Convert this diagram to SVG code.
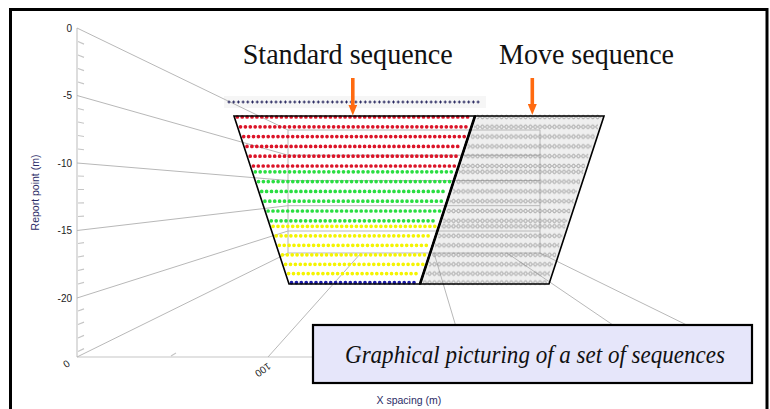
<svg xmlns="http://www.w3.org/2000/svg" width="770" height="409" viewBox="0 0 770 409">
<defs>
<style>
.grid{stroke:#b8b8b8;stroke-width:1;fill:none}
.axis{stroke:#c6c6c6;stroke-width:1.2;fill:none}
.tick{font-family:"Liberation Sans",Arial,sans-serif;font-size:10px;fill:#222}
.alab{font-family:"Liberation Sans",Arial,sans-serif;font-size:10.5px;fill:#2b2b66}
.dot{stroke-width:3.7;stroke-linecap:round;stroke-dasharray:0 4.9;fill:none}
.r{stroke:#dc1428}.g{stroke:#2ade42}.y{stroke:#f4f400}.b{stroke:#1c1ca8}
.dia{fill:url(#dia)}
.title{font-family:"Liberation Serif","Times New Roman",serif;font-size:29px;fill:#111}
.cap{font-family:"Liberation Serif","Times New Roman",serif;font-size:24.5px;font-style:italic;fill:#111}
.arrow{stroke:#ff6a10;stroke-width:3.6;fill:none;marker-end:url(#ah)}
.outline{stroke:#000;stroke-width:1.6;fill:none}
</style>
<marker id="ah" markerUnits="userSpaceOnUse" markerWidth="11" markerHeight="9" refX="0.5" refY="4.5" orient="auto">
<path d="M0,0 L11,4.5 L0,9 Z" fill="#ff6a10"/>
</marker>
<pattern id="dia" patternUnits="userSpaceOnUse" x="0" y="-3" width="4.8" height="6">
<path d="M2.4,0.8 L4.3,3 L2.4,5.2 L0.5,3 Z" fill="none" stroke="#7c7c7c" stroke-width="0.75"/>
</pattern>
</defs>

<rect id="frame" x="10.5" y="9.5" width="756.5" height="405" fill="#fff" stroke="#000" stroke-width="3"/>

<g id="backgrounds">
<rect x="224" y="96" width="262" height="12" fill="#f6f6f6"/>
<polygon points="475,116 604,116 549,284 420,284" fill="#efefef"/>
</g>

<g id="axes">
<line class="axis" x1="77" y1="28" x2="77" y2="357"/>
<line class="axis" x1="77" y1="357" x2="752" y2="357"/>
<path class="axis" stroke-width="1" d="M78,41.5 l6,2.66 M78,55 l6,2.42 M78,68.5 l6,2.18 M78,82 l6,1.94 M78,108.5 l6,1.47 M78,122 l6,1.23 M78,135.5 l6,0.99 M78,149 l6,0.75 M78,176 l6,0.27 M78,189.5 l6,0 M78,203 l6,-0.21 M78,216.5 l6,-0.45 M78,243.5 l6,-0.94 M78,257 l6,-1.18 M78,270.5 l6,-1.42 M78,284 l6,-1.66 M78,311 l6,-2.14 M78,324.5 l6,-2.38 M78,338 l6,-2.62 M78,351.5 l6,-2.86 M171,356 l5,-3"/>
<text class="tick" x="72" y="31.5" text-anchor="end">0</text>
<text class="tick" x="72" y="99" text-anchor="end">-5</text>
<text class="tick" x="72" y="166.5" text-anchor="end">-10</text>
<text class="tick" x="72" y="234" text-anchor="end">-15</text>
<text class="tick" x="72" y="301.5" text-anchor="end">-20</text>
<text class="tick" x="66.5" y="367.5" text-anchor="middle" transform="rotate(145 66.5 364)">0</text>
<text class="tick" x="263" y="373.5" text-anchor="middle" transform="rotate(145 263 370)">100</text>
<text class="alab" x="0" y="0" text-anchor="middle" transform="translate(38.5 192.5) rotate(-90)">Report point (m)</text>
<text class="alab" x="376.5" y="404" font-size="10px">X spacing (m)</text>
</g>

<g id="grid">
<path class="grid" d="M77,28 L288,130 M77,95.5 L288,155.2 M77,163 L288,180.5 M77,230.5 L288,205.7 M77,298 L288,231 M77,357 L288,253"/>
<path class="grid" d="M288,130 H540 M288,155.2 H540 M288,180.5 H540 M288,205.7 H540 M288,231 H540 M288,253 H540 M288,130 V253 M540,130 V253"/>
<path class="grid" d="M268,357 L361,253 M465,357 L434,253 M660,357 L507,253 M752,357 L540,253"/>
</g>

<g id="electrodes">
<line x1="227.5" y1="102" x2="480" y2="102" stroke="#26265e" stroke-width="1" stroke-dasharray="3 1.7"/>
<line x1="228.5" y1="102" x2="480" y2="102" stroke="#26265e" stroke-width="3.2" stroke-dasharray="1 3.7"/>
</g>

<g id="standard-sequence">
<line class="dot r" x1="237.3" y1="117" x2="471.7" y2="117"/>
<line class="dot r" x1="240.5" y1="126.8" x2="468.5" y2="126.8"/>
<line class="dot r" x1="243.7" y1="136.6" x2="465.3" y2="136.6"/>
<line class="dot r" x1="247" y1="146.4" x2="462" y2="146.4"/>
<line class="dot r" x1="250.2" y1="156.2" x2="458.8" y2="156.2"/>
<line class="dot r" x1="253.4" y1="166" x2="455.6" y2="166"/>
<line class="dot g" x1="255.3" y1="171.8" x2="453.7" y2="171.8"/>
<line class="dot g" x1="258.5" y1="181.6" x2="450.5" y2="181.6"/>
<line class="dot g" x1="261.7" y1="191.4" x2="447.3" y2="191.4"/>
<line class="dot g" x1="264.9" y1="201.2" x2="444.1" y2="201.2"/>
<line class="dot g" x1="268.1" y1="211" x2="440.9" y2="211"/>
<line class="dot g" x1="271.3" y1="220.8" x2="437.7" y2="220.8"/>
<line class="dot y" x1="273.1" y1="226.3" x2="435.9" y2="226.3"/>
<line class="dot y" x1="276.2" y1="235.8" x2="432.8" y2="235.8"/>
<line class="dot y" x1="279.3" y1="245.3" x2="429.7" y2="245.3"/>
<line class="dot y" x1="282.4" y1="254.8" x2="426.6" y2="254.8"/>
<line class="dot y" x1="285.6" y1="264.3" x2="423.4" y2="264.3"/>
<line class="dot y" x1="288.6" y1="273.6" x2="420.4" y2="273.6"/>
<line class="dot b" x1="291.5" y1="282.6" x2="417.5" y2="282.6"/>
<polygon class="outline" points="234,116 475,116 420,284 289,284"/>
</g>

<g id="move-sequence">
<rect class="dia" transform="translate(0,117)" x="477.2" y="-3" width="124" height="6"/>
<rect class="dia" transform="translate(0,126.8)" x="474" y="-3" width="124" height="6"/>
<rect class="dia" transform="translate(0,136.6)" x="470.8" y="-3" width="124" height="6"/>
<rect class="dia" transform="translate(0,146.4)" x="467.5" y="-3" width="124" height="6"/>
<rect class="dia" transform="translate(0,156.2)" x="464.3" y="-3" width="124" height="6"/>
<rect class="dia" transform="translate(0,166)" x="461.1" y="-3" width="124" height="6"/>
<rect class="dia" transform="translate(0,171.8)" x="459.2" y="-3" width="124" height="6"/>
<rect class="dia" transform="translate(0,181.6)" x="456" y="-3" width="124" height="6"/>
<rect class="dia" transform="translate(0,191.4)" x="452.8" y="-3" width="124" height="6"/>
<rect class="dia" transform="translate(0,201.2)" x="449.6" y="-3" width="124" height="6"/>
<rect class="dia" transform="translate(0,211)" x="446.4" y="-3" width="124" height="6"/>
<rect class="dia" transform="translate(0,220.8)" x="443.2" y="-3" width="124" height="6"/>
<rect class="dia" transform="translate(0,226.3)" x="441.4" y="-3" width="124" height="6"/>
<rect class="dia" transform="translate(0,235.8)" x="438.3" y="-3" width="124" height="6"/>
<rect class="dia" transform="translate(0,245.3)" x="435.2" y="-3" width="124" height="6"/>
<rect class="dia" transform="translate(0,254.8)" x="432.1" y="-3" width="124" height="6"/>
<rect class="dia" transform="translate(0,264.3)" x="428.9" y="-3" width="124" height="6"/>
<rect class="dia" transform="translate(0,273.6)" x="425.9" y="-3" width="124" height="6"/>
<rect class="dia" transform="translate(0,282.6)" x="423" y="-3" width="124" height="6"/>
<polygon class="outline" points="475,116 604,116 549,284 420,284"/>
<line x1="475" y1="116" x2="420" y2="284" stroke="#000" stroke-width="2.6"/>
</g>

<g id="titles">
<text class="title" x="242.7" y="64" textLength="210" lengthAdjust="spacingAndGlyphs">Standard sequence</text>
<text class="title" x="499" y="64" textLength="175" lengthAdjust="spacingAndGlyphs">Move sequence</text>
</g>

<g id="connectors">
<line class="arrow" x1="352.8" y1="78" x2="352.8" y2="105"/>
<line class="arrow" x1="532.3" y1="78" x2="532.3" y2="104.5"/>
</g>

<g id="caption">
<rect x="313" y="325" width="439" height="58" fill="#e6e6fa" stroke="#000" stroke-width="2.2"/>
<text class="cap" x="535" y="363" text-anchor="middle" textLength="380" lengthAdjust="spacingAndGlyphs">Graphical picturing of a set of sequences</text>
</g>
</svg>
